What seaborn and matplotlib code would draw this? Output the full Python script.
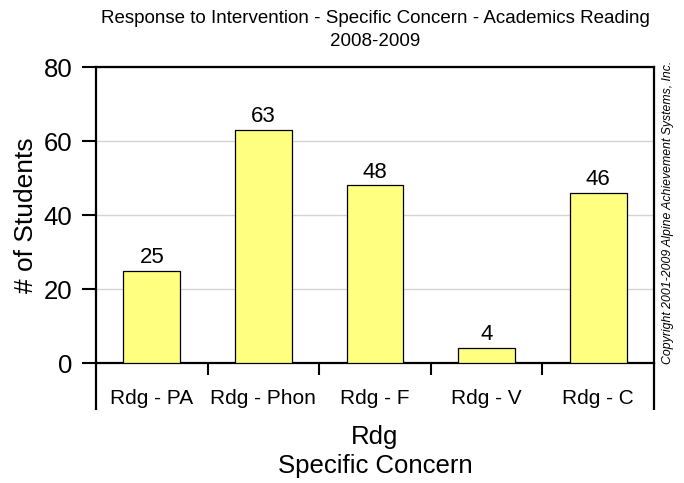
import matplotlib
matplotlib.use('Agg')
import matplotlib.pyplot as plt
import pandas as pd
import seaborn as sns

# Data
categories = ['Rdg - PA', 'Rdg - Phon', 'Rdg - F', 'Rdg - V', 'Rdg - C']
students = [25, 63, 48, 4, 46]
y_ticks = [0, 20, 40, 60, 80]

df = pd.DataFrame({'Concern': categories, 'Students': students})

sns.set_style('white')
plt.rcParams['font.family'] = ['Liberation Sans', 'DejaVu Sans']
plt.rcParams['text.color'] = 'black'
plt.rcParams['axes.labelcolor'] = 'black'
plt.rcParams['xtick.color'] = 'black'
plt.rcParams['ytick.color'] = 'black'

fig = plt.figure(figsize=(6.84, 4.83), dpi=100)
ax = fig.add_axes([0.1404, 0.2484, 0.8158, 0.6128])

sns.barplot(data=df, x='Concern', y='Students', color='#FFFF80',
            edgecolor='black', linewidth=0.9, width=0.51, saturation=1, ax=ax, zorder=3)

# Value labels on top of bars
ax.bar_label(ax.containers[0], fontsize=16, padding=2)

# Axes limits and ticks
ax.set_xlim(-0.5, len(categories) - 0.5)
ax.set_ylim(0, 80)
ax.set_yticks(y_ticks)
ax.tick_params(axis='y', direction='out', length=10, width=1.5, labelsize=18.5, pad=7, left=True)
ax.tick_params(axis='x', which='major', length=0, labelsize=15, pad=19)
ax.set_xticks([i + 0.5 for i in range(len(categories) - 1)], minor=True)
ax.tick_params(axis='x', which='minor', direction='out', length=8.5, width=1.5, bottom=True)

# Gridlines
ax.yaxis.grid(True, color='#d4d4d4', linewidth=1)
ax.set_axisbelow(True)

for s in ax.spines.values():
    s.set_visible(True)
    s.set_color('black')
    s.set_linewidth(1.6)

# Left / right frame lines extending down around the category labels
for xa in (0, 1):
    ax.plot([xa, xa], [0, -0.16], transform=ax.transAxes, color='black',
            linewidth=1.6, clip_on=False, solid_capstyle='butt')

# Labels
ax.set_ylabel('# of Students', fontsize=19, labelpad=4)
ax.set_xlabel('Rdg\nSpecific Concern', fontsize=18.5, labelpad=12, linespacing=1.27)
ax.set_title('Response to Intervention - Specific Concern - Academics Reading\n2008-2009',
             fontsize=13.5, pad=15, linespacing=1.47)

fig.text(0.976, 0.56, 'Copyright 2001-2009 Alpine Achievement Systems, Inc.',
         rotation=90, fontsize=8.8, style='italic', ha='center', va='center')

fig.savefig('out.png', dpi=100)
